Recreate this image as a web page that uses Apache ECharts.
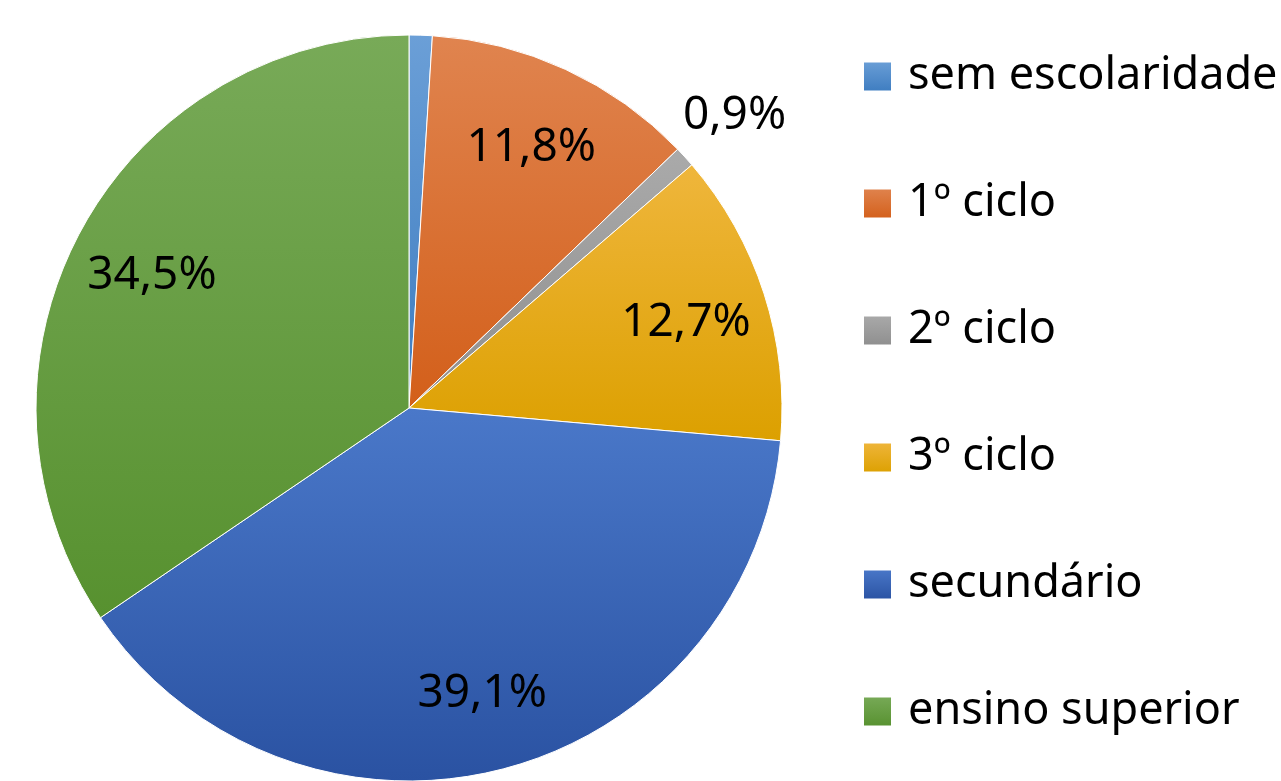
<!DOCTYPE html>
<html>
<head>
<meta charset="utf-8">
<script src="https://cdn.jsdelivr.net/npm/echarts@6/dist/echarts.min.js"></script>
<style>
  html, body { margin: 0; padding: 0; background: #fff; }
  #chart { width: 1281px; height: 781px; }
</style>
</head>
<body>
<div id="chart"></div>
<script>
const categorias = ["sem escolaridade", "1º ciclo", "2º ciclo", "3º ciclo", "secundário", "ensino superior"];
const valores = [1.0, 11.8, 0.9, 12.7, 39.1, 34.5];
const rotulos = ["", "11,8%", "0,9%", "12,7%", "39,1%", "34,5%"];
const coresTopo = ["#6b9fd7", "#e0844f", "#aaaaaa", "#efb63c", "#4a78c9", "#78aa58"];
const coresBase = ["#3d7cc0", "#d35f1a", "#8e8e8e", "#dca000", "#2a52a2", "#57912f"];

const cx = 409, cy = 408, raio = 373;
const fonte = "'Noto Sans', 'Open Sans', sans-serif";

const total = valores.reduce((a, b) => a + b, 0);
// angulo medio de cada fatia (a partir do topo, sentido horario)
const angulosMedios = [];
let acumulado = 0;
valores.forEach(v => {
    angulosMedios.push(((acumulado + v / 2) / total) * 2 * Math.PI);
    acumulado += v;
});

const dados = categorias.map((nome, i) => ({
    name: nome,
    value: valores[i],
    itemStyle: {
        color: new echarts.graphic.LinearGradient(0, 0, 0, 1, [
            { offset: 0, color: coresTopo[i] },
            { offset: 1, color: coresBase[i] }
        ])
    },
    label: { show: rotulos[i] !== "" }
}));

const myChart = echarts.init(document.getElementById("chart"));

myChart.setOption({
    animation: false,
    legend: {
        orient: "vertical",
        left: 862,
        top: 54,
        padding: 0,
        itemWidth: 29,
        itemHeight: 30,
        itemGap: 82,
        icon: "rect",
        data: categorias,
        textStyle: {
            fontFamily: fonte,
            fontSize: 45,
            lineHeight: 40,
            color: "#000",
            padding: [0, 0, 0, 11]
        }
    },
    series: [
        {
            type: "pie",
            center: [cx, cy],
            radius: [0, raio],
            startAngle: 90,
            clockwise: true,
            data: dados,
            itemStyle: { borderColor: "#fff", borderWidth: 1 },
            emphasis: { disabled: true },
            label: {
                position: "inside",
                formatter: (p) => rotulos[p.dataIndex],
                fontFamily: fonte,
                fontSize: 46,
                color: "#000"
            },
            labelLine: { show: false },
            labelLayout: (params) => {
                const i = params.dataIndex;
                const fator = valores[i] < 2 ? 1.18 : 0.78;
                const a = angulosMedios[i];
                return {
                    x: cx + Math.sin(a) * raio * fator,
                    y: cy - Math.cos(a) * raio * fator + 4,
                    align: "center",
                    verticalAlign: "middle"
                };
            }
        }
    ]
});
</script>
</body>
</html>
